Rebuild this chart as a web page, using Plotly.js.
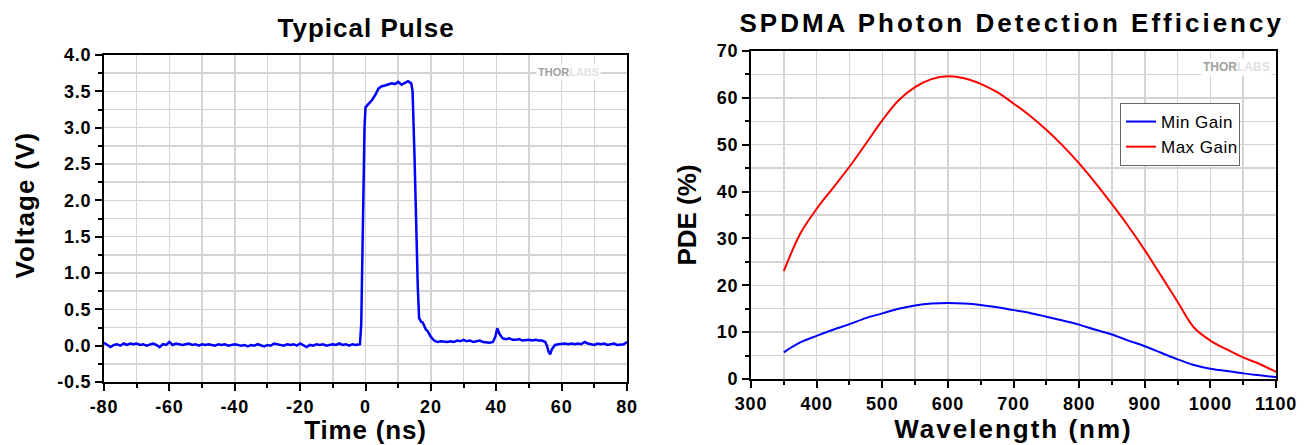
<!DOCTYPE html>
<html>
<head>
<meta charset="utf-8">
<script src="https://cdn.plot.ly/plotly-3.0.1.min.js"></script>
<style>
html,body{margin:0;padding:0;background:#fff;}
#chart{width:1313px;height:445px;}
</style>
</head>
<body>
<div id="chart"></div>
<script>
// ---- Typical Pulse data (time in ns, voltage in V) ----
const pulseTime = [
 -80,-79,-78,-77,-76,-75,-74,-73,-72,-71,-70,-69,-68,-67,-66,-65,-64,-63,-62,-61,
 -60,-59,-58,-57,-56,-55,-54,-53,-52,-51,-50,-49,-48,-47,-46,-45,-44,-43,-42,-41,
 -40,-39,-38,-37,-36,-35,-34,-33,-32,-31,-30,-29,-28,-27,-26,-25,-24,-23,-22,-21,
 -20,-19,-18,-17,-16,-15,-14,-13,-12,-11,-10,-9,-8,-7,-6,-5,-4,-3,-2,
 -1.7,-1.3,-1,-0.6,-0.3,0,0.5,1,2,3,4,5,6,7,8,9,10,11,12,13,14,
 14.4,15,15.5,16,16.4,17,17.5,18,18.5,19,20,21,22,23,24,25,26,27,28,29,
 30,31,32,33,34,35,36,37,38,39,39.7,40.3,41,42,43,44,45,46,47,48,49,
 50,51,52,53,54,55,55.5,56,56.5,57,58,59,60,61,62,63,64,65,66,67,68,69,
 70,71,72,73,74,75,76,77,78,79,80
];
const pulseVoltage = [
 0.04,0.01,-0.02,0.01,0.02,0.00,0.03,0.01,0.03,0.02,0.03,0.01,0.02,0.00,0.02,0.03,0.01,-0.02,0.02,0.01,
 0.05,0.01,0.03,0.02,0.01,0.02,0.03,0.01,0.02,0.00,0.02,0.01,0.02,0.01,0.00,0.02,0.01,0.02,0.00,0.01,
 0.02,0.01,0.00,0.01,-0.01,0.01,0.00,0.02,0.00,-0.01,0.01,0.00,0.03,0.02,0.01,0.00,0.02,0.01,0.02,0.00,
 0.03,0.01,-0.02,0.01,0.00,0.02,0.01,0.02,0.00,0.01,0.02,0.01,0.03,0.01,0.02,0.00,0.02,0.01,0.01,
 0.02,0.30,1.20,2.40,3.00,3.28,3.30,3.33,3.38,3.45,3.54,3.57,3.58,3.60,3.61,3.60,3.63,3.59,3.62,3.64,3.61,
 3.50,2.60,1.60,0.80,0.38,0.33,0.32,0.26,0.22,0.20,0.12,0.07,0.05,0.06,0.05,0.05,0.06,0.05,0.07,0.06,
 0.08,0.06,0.07,0.05,0.06,0.07,0.05,0.04,0.04,0.05,0.12,0.24,0.16,0.10,0.09,0.10,0.08,0.08,0.09,0.07,0.08,
 0.08,0.07,0.08,0.07,0.07,0.05,0.00,-0.08,-0.12,-0.05,0.01,0.02,0.03,0.03,0.02,0.03,0.02,0.03,0.02,0.05,0.03,0.02,
 0.01,0.03,0.02,0.03,0.01,0.02,0.03,0.01,0.02,0.02,0.05
];
const pulseXTicks = [-80,-60,-40,-20,0,20,40,60,80];
const pulseXTickText = ['-80','-60','-40','-20','0','20','40','60','80'];
const pulseYTicks = [-0.5,0,0.5,1,1.5,2,2.5,3,3.5,4];
const pulseYTickText = ['-0.5','0.0','0.5','1.0','1.5','2.0','2.5','3.0','3.5','4.0'];

// ---- SPDMA Photon Detection Efficiency data ----
const wavelength = [350,375,400,425,450,475,500,525,550,575,600,625,650,675,700,725,750,775,800,825,850,875,900,925,950,975,1000,1025,1050,1075,1100];
const minGain = [5.7,7.8,9.2,10.5,11.7,13.0,14.0,15.0,15.7,16.1,16.2,16.1,15.8,15.3,14.7,14.1,13.3,12.5,11.6,10.5,9.5,8.2,7.0,5.6,4.2,3.0,2.2,1.7,1.2,0.8,0.4];
const maxGain = [23.0,31.0,36.3,40.8,45.3,50.2,55.2,59.5,62.3,64.0,64.6,64.2,63.0,61.2,58.8,56.2,53.2,49.8,46.0,41.8,37.3,32.6,27.5,22.0,16.5,11.0,8.2,6.3,4.6,3.2,1.5];

const seriesNames = ['Min Gain','Max Gain'];
const leftTitle = 'Typical Pulse';
const rightTitle = 'SPDMA Photon Detection Efficiency';

const FONT = 'Liberation Sans, Arial, sans-serif';
const W = 1313, H = 445;
function px(x){return x/W;}
function py(y){return 1 - y/H;}

const traces = [
  {x: pulseTime, y: pulseVoltage, xaxis:'x', yaxis:'y', mode:'lines', line:{color:'#0000ff', width:2.5}, showlegend:false},
  {x: wavelength, y: minGain, xaxis:'x2', yaxis:'y2', mode:'lines', line:{color:'#0000ff', width:2, shape:'spline'}, name: seriesNames[0]},
  {x: wavelength, y: maxGain, xaxis:'x2', yaxis:'y2', mode:'lines', line:{color:'#ff0000', width:2, shape:'spline'}, name: seriesNames[1]}
];

const tickFont = {family: FONT, size: 18, color:'#000', weight: 'bold'};
const axTitleFont = {family: FONT, size: 26, color:'#000', weight: 'bold'};
const gridCol = '#d4d4d4';

function axisBase(){
  return {
    showline:true, linecolor:'#000', linewidth:2, mirror:true,
    ticks:'outside', ticklen:7, tickwidth:2, tickcolor:'#000',
    showgrid:true, gridcolor:gridCol, gridwidth:1.5,
    zeroline:false, tickfont: tickFont, fixedrange:true
  };
}
function minorOf(d){
  return {dtick:d, ticks:'outside', ticklen:4, tickwidth:2, tickcolor:'#000', showgrid:true, gridcolor:gridCol, gridwidth:1.5};
}

const xaxis = Object.assign(axisBase(), {
  domain:[px(104), px(627)], anchor:'y', range:[-80,80], tickmode:'array', tickvals:pulseXTicks, ticktext:pulseXTickText, minor:minorOf(10),
  title:{text:'Time (ns)', font:axTitleFont, standoff:4}
});
const yaxis = Object.assign(axisBase(), {
  domain:[py(382), py(55)], anchor:'x', range:[-0.5,4.0], tickmode:'array', tickvals:pulseYTicks, ticktext:pulseYTickText, minor:minorOf(0.25)
});
const xaxis2 = Object.assign(axisBase(), {
  domain:[px(751), px(1276)], anchor:'y2', range:[300,1100], dtick:100, tick0:0, minor:minorOf(50),
  title:{text:'Wavelength (nm)', font:axTitleFont, standoff:4}
});
const yaxis2 = Object.assign(axisBase(), {
  domain:[py(379), py(51)], anchor:'x2', range:[0,70], dtick:10, tick0:0, minor:minorOf(5),
  title:{text:'PDE (%)', font:axTitleFont, standoff:14}
});

const wm = "<b>THOR</b><span style='color:#e2e2e2'><b>LABS</b></span>";

const layout = {
  width: W, height: H,
  margin:{l:0, r:0, t:0, b:0},
  paper_bgcolor:'#fff', plot_bgcolor:'#fff',
  font:{family: FONT, color:'#000'},
  xaxis, yaxis, xaxis2, yaxis2,
  showlegend:true,
  legend:{x:px(1120), y:py(103), xanchor:'left', yanchor:'top', bordercolor:'#666', borderwidth:1, bgcolor:'#fff',
          font:{family:FONT, size:17, color:'#000'}, tracegroupgap:0, itemwidth:30},
  annotations:[
    {text:leftTitle, xref:'paper', yref:'paper', x:px(366), y:py(28), xanchor:'center', yanchor:'middle', showarrow:false,
     font:{family:FONT, size:26, color:'#000', weight:'bold'}},
    {text:rightTitle, xref:'paper', yref:'paper', x:px(1012), y:py(23), xanchor:'center', yanchor:'middle', showarrow:false,
     font:{family:FONT, size:26, color:'#000', weight:'bold'}},
    {text:'Voltage (V)', xref:'paper', yref:'paper', x:px(25), y:py(205), xanchor:'center', yanchor:'middle', showarrow:false,
     textangle:-90, font:axTitleFont},
    {text:wm, xref:'paper', yref:'paper', x:px(601), y:py(72), xanchor:'right', yanchor:'middle', showarrow:false,
     font:{family:FONT, size:11, color:'#a0a0a0'}, bgcolor:'#fff'},
    {text:wm, xref:'paper', yref:'paper', x:px(1272), y:py(67), xanchor:'right', yanchor:'middle', showarrow:false,
     font:{family:FONT, size:12, color:'#a0a0a0'}, bgcolor:'#fff'}
  ]
};

Plotly.newPlot('chart', traces, layout, {staticPlot:true, displayModeBar:false}).then(function(gd){
  const spacing = {};
  spacing[leftTitle] = '1px';
  spacing[rightTitle] = '3px';
  spacing['Time (ns)'] = '0.8px';
  spacing['Voltage (V)'] = '1.2px';
  spacing['Wavelength (nm)'] = '2px';
  gd.querySelectorAll('text').forEach(function(t){
    const s = spacing[t.textContent];
    if (s) t.style.letterSpacing = s;
  });
  gd.querySelectorAll('.xtick text, .x2tick text, .ytick text, .y2tick text').forEach(function(t){
    t.style.letterSpacing = '0.8px';
  });
  gd.querySelectorAll('.legendtext').forEach(function(t){
    t.style.letterSpacing = '0.5px';
  });
});
</script>
</body>
</html>
